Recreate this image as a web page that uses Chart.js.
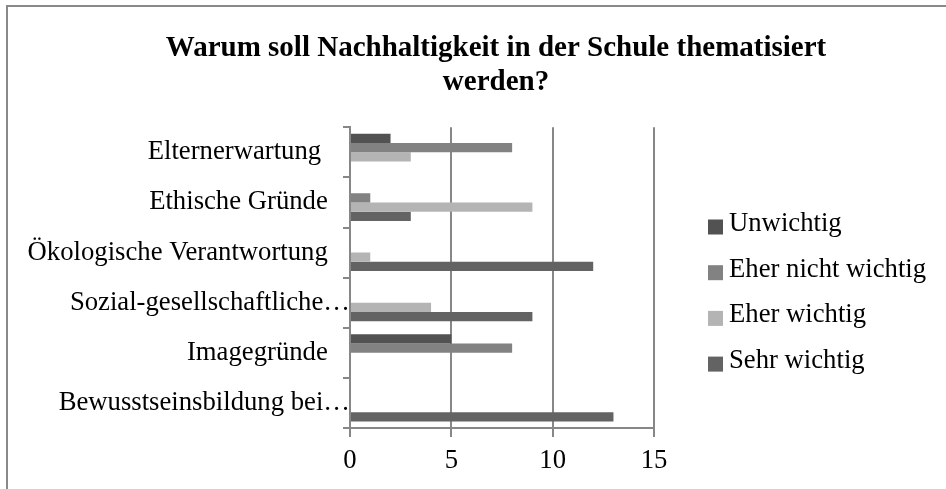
<!DOCTYPE html>
<html>
<head>
<meta charset="utf-8">
<script src="https://cdn.jsdelivr.net/npm/chart.js@4.4.1/dist/chart.umd.min.js"></script>
<style>
  html, body { margin: 0; padding: 0; background: #fff; overflow: hidden; width: 946px; height: 489px; }
  #frame { position: absolute; left: 6px; top: 5px; width: 2000px; height: 2000px;
           border-left: 2px solid #898989; border-top: 2px solid #898989; }
  #wrap { position: absolute; left: 0; top: 0; width: 992px; height: 489px; }
</style>
</head>
<body>
<div id="frame"></div>
<div id="wrap"><canvas id="c" width="992" height="489"></canvas></div>
<script>
const categories = ['Elternerwartung ', 'Ethische Gründe', 'Ökologische Verantwortung', 'Sozial-gesellschaftliche…', 'Imagegründe', 'Bewusstseinsbildung bei…'];
const seriesNames = ['Unwichtig', 'Eher nicht wichtig', 'Eher wichtig', 'Sehr wichtig'];
const unwichtig = [2, 0, 0, 0, 5, 0];
const eherNichtWichtig = [8, 1, 0, 0, 8, 0];
const eherWichtig = [3, 9, 1, 4, 0, 0];
const sehrWichtig = [0, 3, 12, 9, 0, 13];
const xTicks = [0, 5, 10, 15];
const titleLines = ['Warum soll Nachhaltigkeit in der Schule thematisiert', 'werden?'];

const colors = ['#525252', '#828282', '#b4b4b4', '#636363'];
const values = [unwichtig, eherNichtWichtig, eherWichtig, sehrWichtig];
const FONT = '"Liberation Serif", "Times New Roman", serif';
const GRID = '#878787';
const LABEL_SIZE = 26.7;

Chart.defaults.color = '#000';
Chart.defaults.font.family = FONT;

const sideLegend = {
  id: 'sideLegend',
  afterDraw(chart) {
    const ctx = chart.ctx;
    ctx.save();
    ctx.font = LABEL_SIZE + 'px ' + FONT;
    ctx.textBaseline = 'middle';
    ctx.textAlign = 'left';
    chart.data.datasets.forEach((ds, i) => {
      const cy = 224 + i * 45.7;
      ctx.fillStyle = ds.backgroundColor;
      ctx.fillRect(708, cy - 4.5, 15, 15);
      ctx.fillStyle = '#000';
      ctx.fillText(ds.label, 729, cy);
    });
    ctx.restore();
  }
};

new Chart(document.getElementById('c'), {
  type: 'bar',
  data: {
    labels: categories,
    datasets: seriesNames.map((name, i) => ({
      label: name,
      data: values[i],
      backgroundColor: colors[i],
      borderWidth: 0,
      categoryPercentage: 0.74,
      barPercentage: 1.0
    }))
  },
  options: {
    indexAxis: 'y',
    responsive: false,
    animation: false,
    devicePixelRatio: 1,
    layout: { padding: 0 },
    plugins: {
      legend: { display: false },
      tooltip: { enabled: false },
      title: {
        display: true,
        text: titleLines,
        color: '#000',
        font: { family: FONT, size: 29, weight: 'bold', lineHeight: 1.16 },
        padding: { top: 32, bottom: 28 }
      }
    },
    scales: {
      x: {
        min: 0, max: 15,
        afterBuildTicks(scale) { scale.ticks = xTicks.map(v => ({ value: v })); },
        afterFit(scale) { scale.height = 61; },
        grid: { color: GRID, lineWidth: 2, drawTicks: true, tickLength: 9, tickColor: GRID },
        border: { display: true, color: GRID, width: 2 },
        ticks: { font: { family: FONT, size: LABEL_SIZE }, color: '#000', padding: 8, maxRotation: 0 }
      },
      y: {
        afterFit(scale) { scale.width = 350; },
        grid: { offset: true, drawOnChartArea: false, drawTicks: true, tickLength: 7, color: GRID, lineWidth: 2 },
        border: { display: true, color: GRID, width: 2 },
        ticks: {
          font: { family: FONT, size: LABEL_SIZE },
          color: '#000',
          padding: -7,
          autoSkip: false,
          callback(value) {
            const lbl = this.getLabelForValue(value);
            return lbl.endsWith('…') ? lbl : lbl + '\u2002\u2004';
          }
        }
      },
      legendSpace: {
        type: 'category',
        position: 'right',
        afterFit(scale) { scale.width = 338; },
        grid: { display: false },
        border: { display: false },
        ticks: { display: false }
      }
    }
  },
  plugins: [sideLegend]
});
</script>
</body>
</html>
